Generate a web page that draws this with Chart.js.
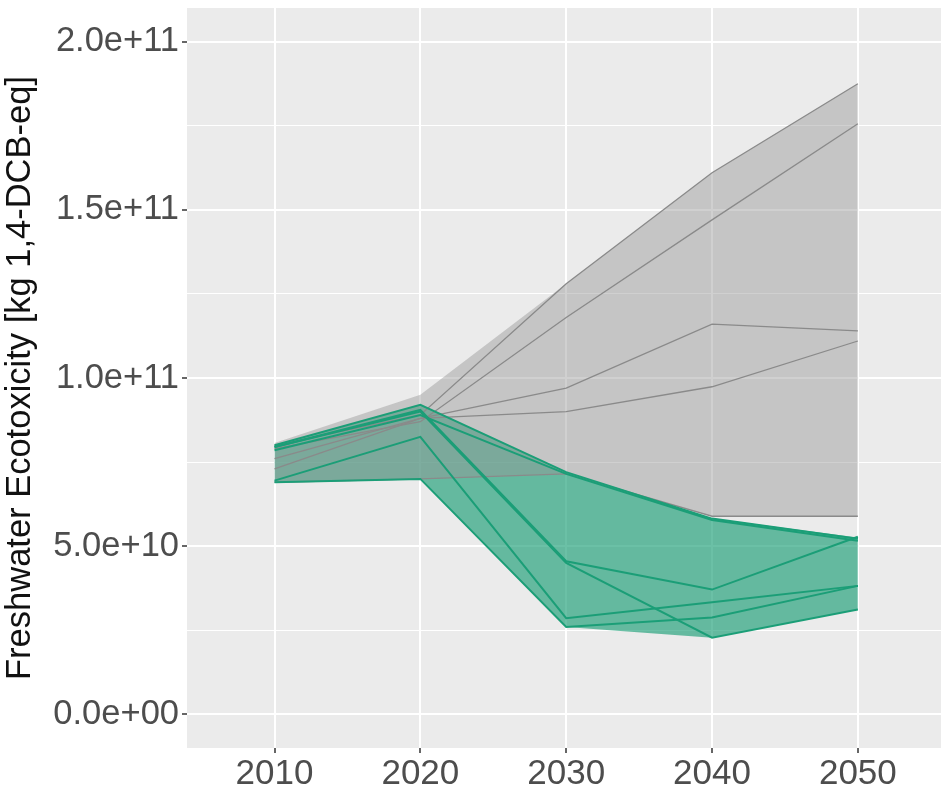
<!DOCTYPE html>
<html>
<head>
<meta charset="utf-8">
<script src="https://cdn.jsdelivr.net/npm/chart.js@4.4.1/dist/chart.umd.min.js"></script>
<style>
  html, body { margin: 0; padding: 0; background: #fff; overflow: hidden; }
</style>
</head>
<body>
<canvas id="chart" width="941" height="789"></canvas>
<script>
const years = [2010, 2020, 2030, 2040, 2050];
const yTicks = [0, 5e10, 1e11, 1.5e11, 2e11];
const yMinorTicks = [2.5e10, 7.5e10, 1.25e11, 1.75e11];
const yTickLabels = ['0.0e+00', '5.0e+10', '1.0e+11', '1.5e+11', '2.0e+11'];

// ribbon bounds (min / max of each scenario group)
const greyLow = [6.9e10, 7.0e10, 7.15e10, 5.89e10, 5.89e10];
const greyHigh = [8.07e10, 9.5e10, 12.8e10, 16.1e10, 18.75e10];
const greenLow = [6.9e10, 7.0e10, 2.6e10, 2.28e10, 3.12e10];
const greenHigh = [8.0e10, 9.2e10, 7.2e10, 5.82e10, 5.26e10];

// individual scenario lines
const greyLines = [
  [8.0e10, 8.9e10, 12.8e10, 16.1e10, 18.75e10],
  [7.9e10, 8.7e10, 11.8e10, 14.7e10, 17.56e10],
  [7.6e10, 8.8e10, 9.7e10, 11.6e10, 11.4e10],
  [7.3e10, 8.8e10, 9.0e10, 9.74e10, 11.1e10],
  [6.9e10, 7.0e10, 7.15e10, 5.89e10, 5.89e10],
];
const greenLines = [
  [8.0e10, 9.2e10, 7.2e10, 5.82e10, 5.22e10],
  [7.95e10, 9.05e10, 4.55e10, 3.71e10, 5.28e10],
  [7.85e10, 8.9e10, 7.15e10, 5.78e10, 5.16e10],
  [7.95e10, 9.0e10, 4.5e10, 2.28e10, 3.12e10],
  [6.95e10, 8.25e10, 2.86e10, 3.33e10, 3.82e10],
  [6.9e10, 7.0e10, 2.6e10, 2.88e10, 3.82e10],
];

const toPoints = (arr) => years.map((x, i) => ({ x, y: arr[i] }));
const font = 'Liberation Sans, Arial, sans-serif';

const panelBg = {
  id: 'panelBg',
  beforeDraw(chart) {
    const { ctx, chartArea: a } = chart;
    ctx.save();
    ctx.fillStyle = '#EBEBEB';
    ctx.fillRect(a.left, a.top, a.right - a.left, a.bottom - a.top);
    ctx.restore();
  },
};

const base = { pointRadius: 0, tension: 0, fill: false };

const datasets = [
  { ...base, data: toPoints(greenLow), borderWidth: 0, borderColor: 'rgba(0,0,0,0)', order: 4 },
  { ...base, data: toPoints(greenHigh), borderWidth: 0, borderColor: 'rgba(0,0,0,0)',
    fill: '-1', backgroundColor: 'rgba(27,158,119,0.65)', order: 4 },
  { ...base, data: toPoints(greyLow), borderWidth: 0, borderColor: 'rgba(0,0,0,0)', order: 3 },
  { ...base, data: toPoints(greyHigh), borderWidth: 0, borderColor: 'rgba(0,0,0,0)',
    fill: '-1', backgroundColor: 'rgba(150,150,150,0.45)', order: 3 },
  ...greyLines.map((arr) => ({ ...base, data: toPoints(arr), borderColor: '#8A8A8A', borderWidth: 1.3, order: 2 })),
  ...greenLines.map((arr) => ({ ...base, data: toPoints(arr), borderColor: '#1B9E77', borderWidth: 2, order: 1 })),
];

const isMajor = (v) => yTicks.includes(v);

new Chart(document.getElementById('chart'), {
  type: 'line',
  data: { datasets },
  plugins: [panelBg],
  options: {
    responsive: false,
    animation: false,
    layout: { padding: { top: 8, right: 0, bottom: 0, left: 0 } },
    plugins: { legend: { display: false }, tooltip: { enabled: false } },
    scales: {
      x: {
        type: 'linear',
        min: 2004,
        max: 2055.7,
        afterBuildTicks: (s) => { s.ticks = years.map((v) => ({ value: v })); },
        afterFit: (s) => { s.height = 41; s.paddingLeft = 0; s.paddingRight = 0; },
        border: { display: false },
        grid: { color: '#FFFFFF', lineWidth: 2, tickColor: '#333333', tickLength: 5, tickWidth: 1.5 },
        ticks: {
          autoSkip: false, maxRotation: 0, padding: 0,
          color: '#4D4D4D', font: { family: font, size: 35 },
          callback: (v) => String(v),
        },
      },
      y: {
        type: 'linear',
        min: -1e10,
        max: 2.1e11,
        afterBuildTicks: (s) => {
          s.ticks = [...yTicks, ...yMinorTicks].sort((a, b) => a - b).map((v) => ({ value: v }));
        },
        afterFit: (s) => { s.width = 187; s.paddingTop = 0; s.paddingBottom = 0; },
        border: { display: false },
        grid: {
          color: '#FFFFFF',
          lineWidth: (c) => (c.tick && isMajor(c.tick.value) ? 2 : 1),
          tickColor: (c) => (c.tick && isMajor(c.tick.value) ? '#333333' : 'rgba(0,0,0,0)'),
          tickLength: 5,
          tickWidth: 1.5,
        },
        ticks: {
          autoSkip: false, padding: 3,
          color: '#4D4D4D', font: { family: font, size: 34.5 },
          callback: (v) => { const i = yTicks.indexOf(v); return i >= 0 ? yTickLabels[i] : ''; },
        },
        title: {
          display: true,
          text: 'Freshwater Ecotoxicity [kg 1,4-DCB-eq]',
          color: '#111111',
          font: { family: font, size: 34.5 },
          padding: 0,
        },
      },
    },
  },
});
</script>
</body>
</html>
